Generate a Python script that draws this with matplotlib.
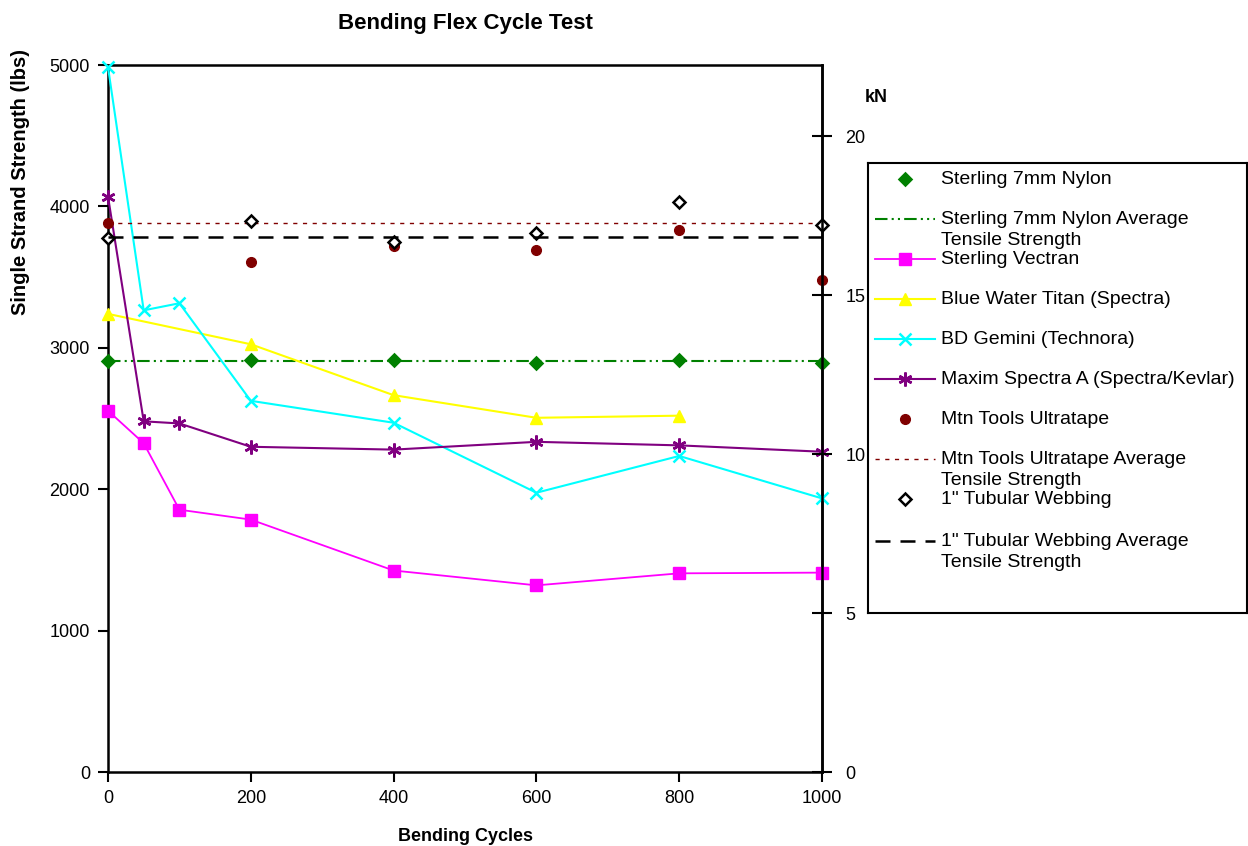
import matplotlib
matplotlib.use("Agg")
import matplotlib.pyplot as plt
from matplotlib.lines import Line2D

plt.rcParams['font.family'] = ['Liberation Sans', 'DejaVu Sans']

# --- data (lbs) ---
cycles_6 = [0, 200, 400, 600, 800, 1000]
cycles_8 = [0, 50, 100, 200, 400, 600, 800, 1000]
cycles_titan = [0, 200, 400, 600, 800]

nylon = [2910, 2915, 2915, 2895, 2915, 2895]
nylon_avg = 2910
vectran = [2555, 2325, 1855, 1785, 1425, 1320, 1405, 1410]
titan = [3240, 3025, 2665, 2505, 2520]
gemini = [4985, 3265, 3315, 2625, 2470, 1975, 2235, 1935]
maxim = [4070, 2480, 2465, 2300, 2280, 2335, 2310, 2265]
ultratape = [3885, 3610, 3720, 3690, 3835, 3480]
ultratape_avg = 3880
tubular = [3780, 3900, 3750, 3815, 4030, 3870]
tubular_avg = 3785

LBS_TO_KN = 0.0044482

labels = [
    'Sterling 7mm Nylon',
    'Sterling 7mm Nylon Average\nTensile Strength',
    'Sterling Vectran',
    'Blue Water Titan (Spectra)',
    'BD Gemini (Technora)',
    'Maxim Spectra A (Spectra/Kevlar)',
    'Mtn Tools Ultratape',
    'Mtn Tools Ultratape Average\nTensile Strength',
    '1" Tubular Webbing',
    '1" Tubular Webbing Average\nTensile Strength',
]

# series styles: (color, linestyle, linewidth, marker, markersize, mfc)
styles = [
    ('#008000', 'none', 0, 'D', 6.5, '#008000'),
    ('#008000', (0, (6, 2, 1, 2, 1, 2)), 1.5, None, 0, None),
    ('#FF00FF', '-', 1.3, 's', 8, '#FF00FF'),
    ('#FFFF00', '-', 1.5, '^', 9, '#FFFF00'),
    ('#00FFFF', '-', 1.5, 'x', 9, '#00FFFF'),
    ('#800080', '-', 1.5, (6, 2, 0), 10, '#800080'),
    ('#800000', 'none', 0, 'o', 7, '#800000'),
    ('#800000', (0, (3, 4)), 1.0, None, 0, None),
    ('black', 'none', 0, 'D', 6, 'white'),
    ('black', (0, (6, 4)), 1.8, None, 0, None),
]


def edge_width(mk):
    return 1.8 if mk in ('x', (6, 2, 0), 'D') else 1


fig = plt.figure(figsize=(12.48, 8.46), dpi=100)
ax = fig.add_axes([108 / 1248, 1 - 772 / 846, 714 / 1248, 707 / 846])

series = [
    (cycles_6, nylon),
    ([0, 1000], [nylon_avg, nylon_avg]),
    (cycles_8, vectran),
    (cycles_titan, titan),
    (cycles_8, gemini),
    (cycles_8, maxim),
    (cycles_6, ultratape),
    ([0, 1000], [ultratape_avg, ultratape_avg]),
    (cycles_6, tubular),
    ([0, 1000], [tubular_avg, tubular_avg]),
]

for (x, y), (c, ls, lw, mk, ms, mfc), lab in zip(series, styles, labels):
    ax.plot(x, y, color=c, linestyle=ls, linewidth=lw, marker=mk, markersize=ms,
            markerfacecolor=mfc, markeredgecolor=c, markeredgewidth=edge_width(mk),
            clip_on=False, label=lab, zorder=3)

ax.set_xlim(0, 1000)
ax.set_ylim(0, 5000)
ax.set_xticks(range(0, 1001, 200))
ax.set_yticks(range(0, 5001, 1000))
ax.tick_params(axis='both', direction='out', length=7, width=1.5, labelsize=13, pad=6)
for s in ax.spines.values():
    s.set_linewidth(1.8)
ax.set_xlabel('Bending Cycles', fontsize=13, fontweight='bold', labelpad=15)
ax.set_ylabel('Single Strand Strength (lbs)', fontsize=14.5, fontweight='bold')
ax.yaxis.set_label_coords(-0.109, 0.835)
ax.set_title('Bending Flex Cycle Test', fontsize=16, fontweight='bold', pad=26)

ax2 = ax.twinx()
ax2.set_ylim(0, 5000 * LBS_TO_KN)
ax2.set_yticks([0, 5, 10, 15, 20])
ax2.tick_params(axis='y', direction='inout', length=14, width=1.5, labelsize=13, pad=10)
for s in ax2.spines.values():
    s.set_visible(False)
ax2.spines['right'].set_visible(True)
ax2.spines['right'].set_linewidth(1.8)
fig.text(876 / 1248, 1 - 97 / 846, 'kN', fontsize=13, fontweight='bold', ha='center', va='center')

# legend drawn in its own box, Excel style (fixed row pitch)
lax = fig.add_axes([868 / 1248, 1 - 613 / 846, 379 / 1248, 450 / 846])
lax.set_xlim(0, 379)
lax.set_ylim(450, 0)
lax.set_xticks([])
lax.set_yticks([])
for s in lax.spines.values():
    s.set_linewidth(1.5)
rows = [16, 56, 96, 136, 176, 216, 256, 296, 336, 378]
for row, (c, ls, lw, mk, ms, mfc), lab in zip(rows, styles, labels):
    if ls != 'none':
        lax.add_line(Line2D([7, 67], [row, row], color=c, linestyle=ls, linewidth=lw))
    if mk is not None:
        lax.add_line(Line2D([37], [row], marker=mk, markersize=ms, color=c,
                            markerfacecolor=mfc, markeredgecolor=c,
                            markeredgewidth=edge_width(mk)))
    nl = lab.count('\n')
    lax.text(73, row + nl * 11, lab, fontsize=14, va='center', ha='left', linespacing=1.27)

fig.savefig('out.png', dpi=100)
